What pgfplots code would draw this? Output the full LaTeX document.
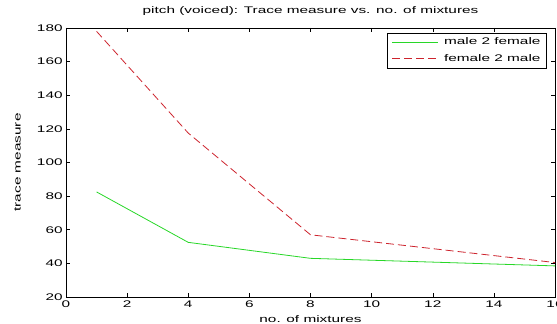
\documentclass[border=0pt]{standalone}
\usepackage{fontspec}
\setmainfont{Liberation Sans}[FakeStretch=1.6]
\usepackage{pgfplots}
\pgfplotsset{compat=1.18}
\definecolor{mgreen}{RGB}{40,215,40}
\definecolor{mred}{RGB}{205,35,45}
\newcommand{\ff}{\fontsize{9.6}{11}\selectfont}
\begin{document}
\ff
\begin{tikzpicture}
\begin{axis}[
  at={(66pt,27pt)}, anchor=south west,
  scale only axis, width=489pt, height=269pt,
  xmin=0, xmax=16, ymin=20, ymax=180,
  xtick={0,2,...,16}, ytick={20,40,...,180},
  tick align=inside, major tick length=4pt,
  axis line style={line width=0.6pt},
  every tick/.style={black, line width=0.5pt},
  /pgf/number format/assume math mode=true,
  tick label style={font=\ff},
  label style={font=\ff},
  title style={font=\ff, at={(axis description cs:0.5,1)}, anchor=base, yshift=8pt},
  title={pitch (voiced): Trace measure vs. no. of mixtures},
  xlabel={no. of mixtures},
  xlabel style={at={(axis description cs:0.5,0)}, anchor=base, yshift=-25pt},
  ylabel={trace measure},
  ylabel style={at={(axis description cs:-0.093,0.5)}, anchor=base},
  legend style={font=\ff, at={(rel axis cs:0.982,0.982)}, anchor=north east,
    inner xsep=4pt, inner ysep=3.5pt, row sep=5pt,
    nodes={inner sep=1.5pt}},
  legend image code/.code={\draw[#1, line width=1pt] (0pt,0pt) -- (46pt,0pt);
    \path (50pt,0pt);},
  legend cell align=left,
]
\addplot[color=mgreen, line width=0.8pt] coordinates {(1,82.5) (4,52.5) (8,43) (16,38.5)};
\addlegendentry{male 2 female}
\addplot[color=mred, line width=0.8pt, dash pattern=on 8pt off 4pt] coordinates {(1,178) (4,117.5) (8,57) (16,40.5)};
\addlegendentry{female 2 male}
\end{axis}
\pgfresetboundingbox
\useasboundingbox (0,0) rectangle (557pt,324pt);
\end{tikzpicture}
\end{document}
